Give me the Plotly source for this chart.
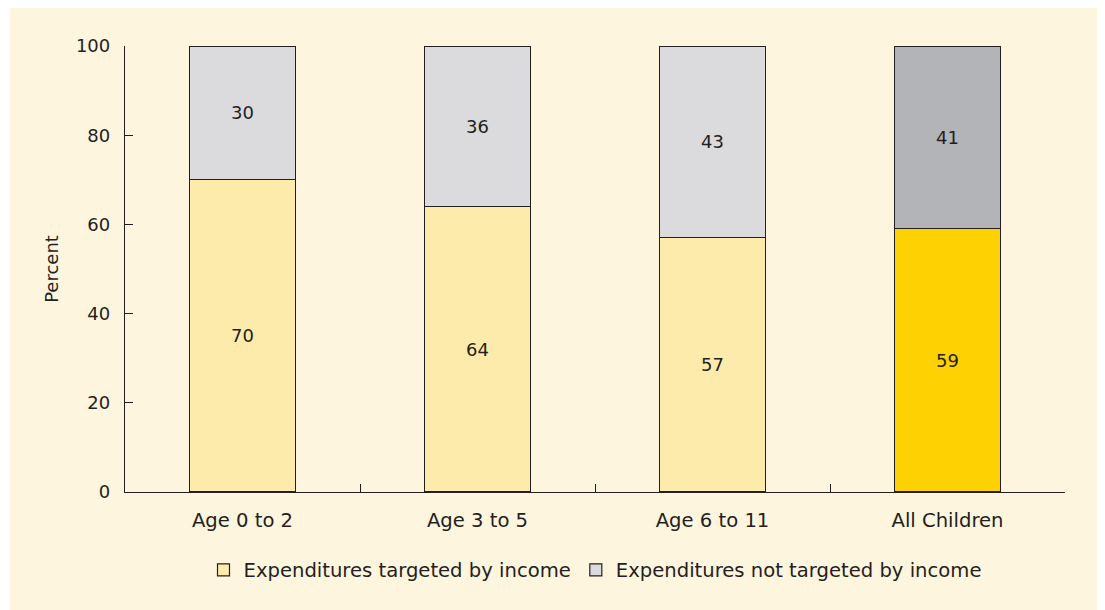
import plotly.graph_objects as go

categories = ["Age 0 to 2", "Age 3 to 5", "Age 6 to 11", "All Children"]
targeted = [70, 64, 57, 59]
not_targeted = [30, 36, 43, 41]
y_ticks = [0, 20, 40, 60, 80, 100]

targeted_colors = ["#FDEBAB", "#FDEBAB", "#FDEBAB", "#FED103"]
not_targeted_colors = ["#DBDBDD", "#DBDBDD", "#DBDBDD", "#B3B4B7"]

FONT = "DejaVu Sans, Arial, sans-serif"
FS = 18
FS_TEXT = 19.6
TXT = "#231F20"
LINE = "#231F20"

# page body has an 8px margin; figure is sized/positioned so the plot area lands
# at screen x 125..1065, y 46..492
W, H = 1097, 602
L, T = 117, 38
PW, PH = 940, 446

fig = go.Figure()
fig.add_trace(go.Bar(
    x=categories, y=targeted, name="Expenditures targeted by income",
    marker=dict(color=targeted_colors, line=dict(color=LINE, width=1.2)),
    text=[str(v) for v in targeted], textposition="inside", insidetextanchor="middle",
    textfont=dict(family=FONT, size=FS, color=TXT), width=0.45,
))
fig.add_trace(go.Bar(
    x=categories, y=not_targeted, name="Expenditures not targeted by income",
    marker=dict(color=not_targeted_colors, line=dict(color=LINE, width=1.2)),
    text=[str(v) for v in not_targeted], textposition="inside", insidetextanchor="middle",
    textfont=dict(family=FONT, size=FS, color=TXT), width=0.45,
))

fig.add_shape(type="rect", xref="paper", yref="paper",
              x0=(2 - L) / PW, x1=(1091 - L) / PW,
              y0=-0.5, y1=(PH + T) / PH,
              fillcolor="#FEF5DF", line=dict(width=0), layer="below")

fig.update_layout(
    barmode="stack",
    width=W, height=H,
    margin=dict(l=L, r=W - L - PW, t=T, b=H - T - PH),
    paper_bgcolor="white", plot_bgcolor="rgba(0,0,0,0)",
    font=dict(family=FONT, size=FS, color=TXT),
    showlegend=True,
    legend=dict(orientation="h", x=0.5, xanchor="center", y=-0.175, yanchor="middle",
                font=dict(family=FONT, size=FS_TEXT, color=TXT), bgcolor="rgba(0,0,0,0)",
                traceorder="normal"),
)
fig.update_xaxes(
    range=[-0.5, 3.5], showline=True, linecolor=LINE, linewidth=1.3,
    ticks="inside", tickson="boundaries", ticklen=8, tickcolor=LINE, tickwidth=1.3,
    showgrid=False, tickfont=dict(family=FONT, size=FS_TEXT, color=TXT), ticklabelstandoff=10,
)
fig.update_yaxes(
    range=[0, 100], tickvals=y_ticks, showline=True, linecolor=LINE, linewidth=1.3,
    ticks="inside", ticklen=8, tickcolor=LINE, tickwidth=1.3, showgrid=False, zeroline=False,
    tickfont=dict(family=FONT, size=FS, color=TXT), ticklabelstandoff=10,
    title=dict(text="Percent", font=dict(family=FONT, size=FS, color=TXT), standoff=12),
)

fig.write_html("out.html")
